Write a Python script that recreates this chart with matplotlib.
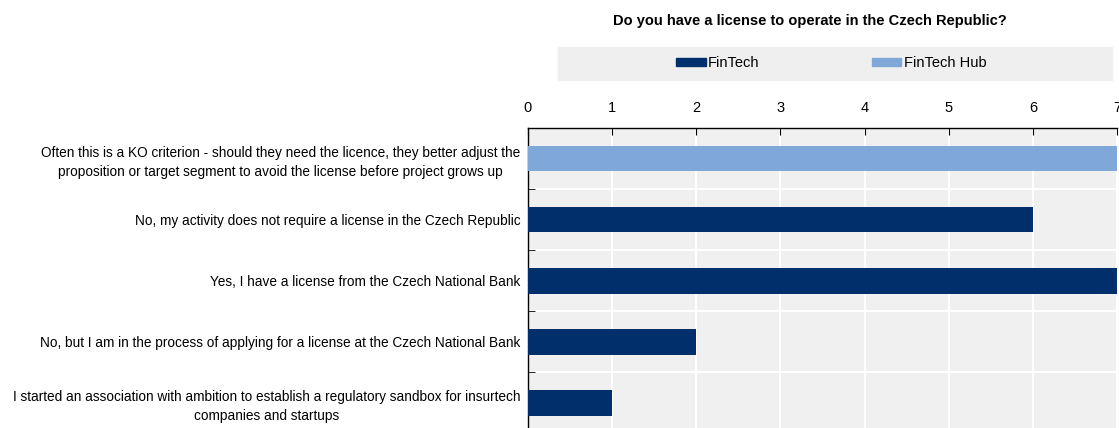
import matplotlib.pyplot as plt
from matplotlib.patches import Patch

plt.rcParams['font.family'] = ['Liberation Sans', 'DejaVu Sans']

categories = [
    "Often this is a KO criterion - should they need the licence, they better adjust the\nproposition or target segment to avoid the license before project grows up",
    "No, my activity does not require a license in the Czech Republic",
    "Yes, I have a license from the Czech National Bank",
    "No, but I am in the process of applying for a license at the Czech National Bank",
    "I started an association with ambition to establish a regulatory sandbox for insurtech\ncompanies and startups",
]
groups = ["FinTech Hub", "FinTech", "FinTech", "FinTech", "FinTech"]
counts = [7, 6, 7, 2, 1]

colors = {"FinTech": "#002F6C", "FinTech Hub": "#7FA8D9"}

fig = plt.figure(figsize=(11.19, 4.28), dpi=100)
ax = fig.add_axes([528 / 1119, 1 - 433.5 / 428, (1117 - 528) / 1119, (433.5 - 128) / 428])
ax.set_facecolor("#F0F0F0")

ypos = list(range(len(categories)))
ax.barh(ypos, counts, height=0.42, color=[colors[g] for g in groups], zorder=3)

ax.set_xlim(0, 7)
ax.set_ylim(len(categories) - 0.5, -0.5)
ax.xaxis.tick_top()
ax.set_xticks(range(8))
ax.tick_params(axis="x", direction="in", length=5, labelsize=10.5, pad=9, color="black")

ax.set_yticks(ypos)
ax.set_yticklabels(categories, fontsize=9.8, linespacing=1.45)
for t in ax.get_yticklabels():
    t.set_multialignment("center")
ax.set_yticks([i + 0.5 for i in ypos[:-1]], minor=True)
ax.tick_params(axis="y", which="major", length=0, pad=5.5)
ax.tick_params(axis="y", which="minor", direction="in", length=5, color="black")

ax.grid(axis="x", color="white", linewidth=1.5, zorder=1)
ax.grid(axis="y", which="minor", color="white", linewidth=1.5, zorder=1)

for side in ["right", "bottom"]:
    ax.spines[side].set_visible(False)
ax.spines["top"].set_linewidth(1)
ax.spines["left"].set_linewidth(1)

# legend strip above the axis
handles = [Patch(color=colors["FinTech"]), Patch(color=colors["FinTech Hub"])]
fig.patches.append(plt.Rectangle((558 / 1119, 1 - 80 / 428), (1112 - 558) / 1119, 33 / 428,
                                 transform=fig.transFigure, color="#EFEFEF", zorder=0))
fig.legend(handles, ["FinTech", "FinTech Hub"], loc="center", bbox_to_anchor=(831 / 1119, 1 - 63 / 428),
           ncol=2, frameon=False, fontsize=10.5, handlelength=2.05, handleheight=0.5,
           handletextpad=0.15, columnspacing=7.7)

fig.text(810 / 1119, 1 - 21 / 428, "Do you have a license to operate in the Czech Republic?",
         ha="center", va="center", fontsize=10.5, fontweight="bold")

fig.savefig("out.png", dpi=100)
